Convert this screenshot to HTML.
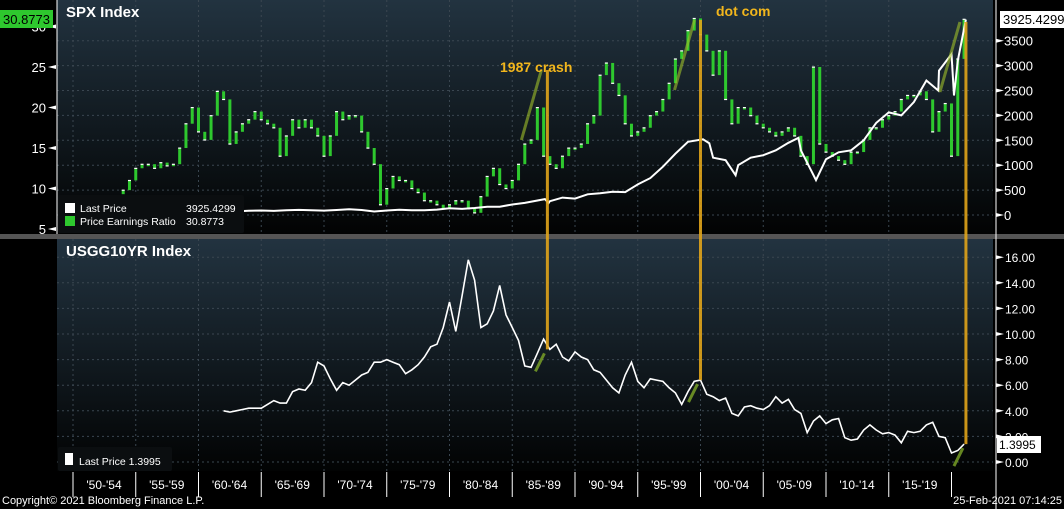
<!DOCTYPE html>
<html><head><meta charset="utf-8"><style>
html,body{margin:0;padding:0;background:#000;}
svg{display:block;font-family:"Liberation Sans",sans-serif;}
</style></head><body>
<svg id="chart" width="1064" height="509" viewBox="0 0 1064 509" xmlns="http://www.w3.org/2000/svg">
<defs>
<linearGradient id="bg" x1="0" y1="0" x2="0" y2="1"><stop offset="0" stop-color="#223340"/><stop offset="1" stop-color="#020303"/></linearGradient>
</defs>
<rect width="1064" height="509" fill="#000"/>
<rect x="57" y="0" width="936" height="234" fill="url(#bg)"/>
<rect x="57" y="239" width="936" height="232" fill="url(#bg)"/>
<rect x="0" y="234" width="1064" height="5" fill="#555"/>
<g id="grid"></g>
<g id="pe"></g>
<g id="lines"></g>
<g id="axes" fill="#fff" font-size="13"></g>
<g id="annot"></g>
<text x="66" y="17" fill="#fff" font-size="15" font-weight="bold">SPX Index</text>
<text x="66" y="256" fill="#fff" font-size="15" font-weight="bold">USGG10YR Index</text>
<text x="500" y="72" fill="#f2b61c" font-size="14" font-weight="bold">1987 crash</text>
<text x="716" y="16" fill="#f2b61c" font-size="14" font-weight="bold">dot com</text>
<g>
<rect x="58" y="195" width="186" height="38" fill="#0b0e10" rx="2"/>
<rect x="65" y="203" width="10" height="10" fill="#fff"/>
<text x="80" y="212" fill="#fff" font-size="10.5">Last Price</text>
<text x="186" y="212" fill="#fff" font-size="10.5">3925.4299</text>
<rect x="65" y="216" width="10" height="10" fill="#2ec82e"/>
<text x="80" y="225" fill="#fff" font-size="10.5">Price Earnings Ratio</text>
<text x="186" y="225" fill="#fff" font-size="10.5">30.8773</text>
</g>
<g>
<rect x="58" y="447" width="114" height="24" fill="#0b0e10" rx="2"/>
<rect x="65" y="453" width="8" height="12" fill="#fff"/>
<text x="79" y="465" fill="#fff" font-size="10.5">Last Price  1.3995</text>
</g>
<rect x="0" y="10" width="53" height="18" fill="#2ec82e"/>
<text x="3" y="24" fill="#000" font-size="13">30.8773</text>
<rect x="1000" y="11" width="64" height="17" fill="#fff"/>
<text x="1003" y="24" fill="#000" font-size="13">3925.4299</text>
<rect x="997" y="436" width="44" height="17" fill="#fff"/>
<text x="999" y="449" fill="#000" font-size="12">1.3995</text>
<text x="2" y="504" fill="#fff" font-size="11">Copyright© 2021 Bloomberg Finance L.P.</text>
<text x="1062" y="504" fill="#fff" font-size="11" text-anchor="end">25-Feb-2021 07:14:25</text>
</svg>
<script>
const peValues=[9.8,11,12.5,13,13,12.5,13.2,12.8,13,15,18,20,17,16,19,22,21,15.5,17,18,18.5,19.5,18.5,18,17.5,14,16.5,18.5,17.5,18.5,17.5,16.5,14,16.5,19.5,18.5,19,19,17,15,13,8,10,11.5,11,11,10,9.5,8.5,8.5,8,7.5,8,8.5,8.5,7.5,7,9,11.5,12.5,10.5,10,11,13,15.5,16,20,14,13,12.5,14,15,15,15.5,18,19,24,25.5,23,21.5,18,16.5,17,17.5,19,19.5,21,23,26,27,29.5,31,29,27,24,27,21,18,20,20,19,18,17.5,17,16.5,17,17.5,16.5,14,13,25,15.5,14.5,14,13.5,13,14.5,14.5,16,17.5,17.5,18.5,19,19.5,21,21.5,21.5,22,21,17,19.5,20.5,14,26,30.9];
const peStart=1954;
const spxYears=[1954,1955,1956,1957,1958,1959,1960,1961,1962,1963,1964,1965,1966,1967,1968,1969,1970,1971,1972,1973,1974,1975,1976,1977,1978,1979,1980,1981,1982,1983,1984,1985,1986,1987.6,1987.9,1988,1989,1990,1991,1992,1993,1994,1995,1996,1997,1998,1999,2000.2,2000.7,2001,2002,2002.8,2003,2004,2005,2006,2007,2007.8,2008,2009.2,2010,2011,2012,2013,2014,2015,2016,2017,2018,2018.95,2019,2020,2020.2,2020.5,2021.15];
const spxValues=[30,40,46,42,50,58,58,70,62,72,84,90,82,94,102,94,88,100,116,100,70,90,105,95,96,108,135,122,140,165,167,210,242,320,240,278,350,330,415,435,466,459,615,740,970,1230,1470,1520,1440,1150,1100,800,1000,1150,1200,1300,1450,1550,1300,700,1120,1260,1300,1500,1850,2060,2000,2270,2700,2500,2900,3230,2400,3100,3925];
const yieldValues=[4.0,3.9,4.0,4.1,4.2,4.2,4.2,4.5,4.8,4.6,4.6,5.5,5.7,5.6,6.2,7.8,7.5,6.5,5.6,6.2,6.0,6.4,6.8,7.0,7.8,7.8,8.0,7.8,7.6,6.9,7.2,7.6,8.2,9.0,9.2,10.5,12.5,10.2,13.0,15.8,14.2,10.5,10.8,11.8,13.8,11.5,10.5,9.5,7.5,7.4,8.5,9.6,8.8,9.2,8.2,7.9,8.6,8.2,8.0,7.2,7.0,6.4,5.8,5.4,6.8,7.8,6.3,5.8,6.5,6.4,6.3,5.8,5.4,4.5,5.5,6.3,6.4,5.3,5.1,4.8,5.0,3.8,3.6,4.3,4.4,4.2,4.1,4.4,5.1,4.6,4.9,4.1,3.8,2.3,3.2,3.6,3.0,3.3,3.4,1.9,1.7,1.8,2.5,2.9,2.5,2.2,2.3,2.1,1.5,2.4,2.3,2.4,2.9,3.1,2.0,1.9,0.7,0.9,1.4];
const yieldStart=1962;
const peTicks=[5,10,15,20,25,30];
const spxTicks=[0,500,1000,1500,2000,2500,3000,3500];
const yieldTicks=[0,2,4,6,8,10,12,14,16];
const periodLabels=["'50-'54","'55-'59","'60-'64","'65-'69","'70-'74","'75-'79","'80-'84","'85-'89","'90-'94","'95-'99","'00-'04","'05-'09","'10-'14","'15-'19"];
const periodStarts=[1950,1955,1960,1965,1970,1975,1980,1985,1990,1995,2000,2005,2010,2015];
const eventYears=[1987.8,2000.0,2021.15];

const NS="http://www.w3.org/2000/svg";
const xS=y=>73+(y-1950)*12.55;
const peY=v=>229-(v-5)*8.1;
const spxY=v=>215-v*0.0498;
const yY=v=>462-v*12.8;
function mk(tag,attrs,parent){const e=document.createElementNS(NS,tag);for(const k in attrs)e.setAttribute(k,attrs[k]);parent.appendChild(e);return e;}
const grid=document.getElementById('grid'),pe=document.getElementById('pe'),lines=document.getElementById('lines'),axes=document.getElementById('axes'),annot=document.getElementById('annot');

periodStarts.forEach(p=>{[[0,234],[239,471]].forEach(r=>{const l=mk('line',{x1:xS(p),x2:xS(p),y1:r[0],y2:r[1],stroke:'#3a4650','stroke-dasharray':'2,3'},grid);

});});
spxTicks.forEach(t=>{const l=mk('line',{x1:57,x2:993,y1:spxY(t),y2:spxY(t),stroke:'#3a4650','stroke-dasharray':'2,3'},grid);

});
yieldTicks.forEach(t=>{const l=mk('line',{x1:57,x2:993,y1:yY(t),y2:yY(t),stroke:'#3a4650','stroke-dasharray':'2,3'},grid);

});

for(let i=0;i<peValues.length;i++){
 const prev=i?peValues[i-1]:peValues[0]-0.5;const cur=peValues[i];
 const x=xS(peStart+i*0.5);
 const top=peY(Math.max(prev,cur)),bot=peY(Math.min(prev,cur));
 const r=mk('rect',{x:x-1.5,y:top,width:3,height:Math.max(2,bot-top),fill:'#2ec82e'},pe);
 
 
 const c=mk('rect',{x:x-1.5,y:peY(cur)-0.5,width:3,height:1.2,fill:'#fff'},pe);
 
 
}
let d='';spxYears.forEach((yr,i)=>{d+=(i?'L':'M')+xS(yr).toFixed(1)+' '+spxY(spxValues[i]).toFixed(1);});
const sp=mk('path',{d:d,fill:'none',stroke:'#fff','stroke-width':2},lines);


d='';yieldValues.forEach((v,i)=>{d+=(i?'L':'M')+xS(yieldStart+i*0.5).toFixed(1)+' '+yY(v).toFixed(1);});
const yl=mk('path',{d:d,fill:'none',stroke:'#fff','stroke-width':1.6},lines);



const evTop=[70,20,22];
eventYears.forEach((ey,i)=>{
 const idx=Math.round((ey-yieldStart)*2);const v=yieldValues[Math.min(idx,yieldValues.length-1)];
 const x=xS(ey);
 const l=mk('line',{x1:x,x2:x,y1:evTop[i],y2:yY(v),stroke:'#e0a41a','stroke-width':3,opacity:0.9},annot);
 
 
 const g1=mk('line',{x1:x-26,y1:evTop[i]+70,x2:x-6,y2:evTop[i],stroke:'#9fbf2a','stroke-width':3,opacity:0.6},annot);
 
 
 const g2=mk('line',{x1:x-12,y1:yY(v)+22,x2:x-3,y2:yY(v)+4,stroke:'#7fa828','stroke-width':3,opacity:0.8},annot);
 
 
});

mk('line',{x1:57,x2:57,y1:0,y2:234,stroke:'#fff'},axes);
mk('line',{x1:996,x2:996,y1:0,y2:509,stroke:'#fff'},axes);
peTicks.forEach(t=>{const y=peY(t);
 const tx=mk('text',{x:46,y:y+5,'text-anchor':'end'},axes);tx.textContent=t;
 
 
 mk('path',{d:`M48 ${y}L56 ${y-2}L56 ${y+2}Z`,fill:'#fff'},axes);});
spxTicks.forEach(t=>{const y=spxY(t);
 const tx=mk('text',{x:1004,y:y+5},axes);tx.textContent=t;
 
 
 mk('path',{d:`M996 ${y-2}L1004 ${y}L996 ${y+2}Z`,fill:'#fff'},axes);});
yieldTicks.forEach(t=>{const y=yY(t);
 const tx=mk('text',{x:1005,y:y+5,'font-size':12},axes);tx.textContent=t.toFixed(2);
 
 
 mk('path',{d:`M996 ${y-2}L1004 ${y}L996 ${y+2}Z`,fill:'#fff'},axes);});
periodStarts.forEach((p,i)=>{const x=xS(p);
 mk('line',{x1:x,x2:x,y1:472,y2:497,stroke:'#fff'},axes);
 const tx=mk('text',{x:x+31,y:489,'text-anchor':'middle','font-size':12},axes);tx.textContent=periodLabels[i];
 
 });
mk('line',{x1:xS(2020),x2:xS(2020),y1:472,y2:497,stroke:'#fff'},axes);
</script>
</body></html>
